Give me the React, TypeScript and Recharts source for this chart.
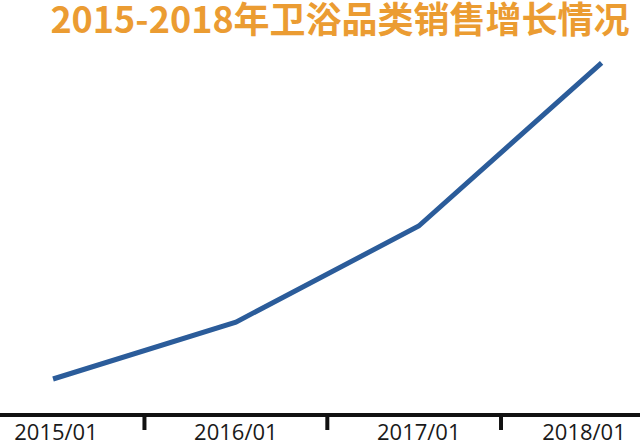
import React from "react";
import { LineChart, Line, XAxis, YAxis } from "recharts";

const periods = ["2015/01", "2016/01", "2017/01", "2018/01"];
const salesIndex = [10, 25.8, 52.5, 97.8];
const labelTicks = [0, 1, 2, 3];
const markTicks = [0.5, 1.5, 2.45];

const title = "2015-2018年卫浴品类销售增长情况";

const data = periods.map((p, i) => ({ idx: i, period: p, value: salesIndex[i] }));

const AxisTick = (props: any) => {
  const { x, y, payload } = props;
  const v = payload.value as number;
  if (markTicks.includes(v)) {
    return (
      <line x1={x} x2={x} y1={y} y2={y + 15} stroke="#111" strokeWidth={4} />
    );
  }
  const label = periods[v];
  const cx = Math.min(Math.max(x, 56), 584);
  return (
    <text
      x={cx}
      y={y + 25}
      textAnchor="middle"
      fontSize={22}
      fontFamily="'Open Sans', 'Noto Sans', sans-serif"
      fill="#1a1a1a"
    >
      {label}
    </text>
  );
};

export default function App() {
  const ticks = [...labelTicks, ...markTicks].sort((a, b) => a - b);
  return (
    <div style={{ position: "relative", width: 640, height: 445, background: "#fff" }}>
      <style>{"body{margin:0}"}</style>
      <div
        style={{
          position: "absolute",
          left: 0,
          top: -1,
          width: 680,
          textAlign: "center",
          fontFamily: "'Noto Sans CJK SC', sans-serif",
          fontWeight: 700,
          fontSize: 36,
          lineHeight: "36px",
          color: "#eb9c32",
          zIndex: 1,
        }}
      >
        {title}
      </div>
      <LineChart
        width={640}
        height={445}
        data={data}
        margin={{ top: 55, right: 0, bottom: 0, left: 0 }}
      >
        <XAxis
          dataKey="idx"
          type="number"
          domain={[-0.29, 3.21]}
          ticks={ticks}
          interval={0}
          allowDataOverflow
          height={30}
          tickLine={false}
          tickSize={0}
          tickMargin={0}
          axisLine={{ stroke: "#111", strokeWidth: 4 }}
          tick={<AxisTick />}
        />
        <YAxis hide domain={[0, 100]} />
        <Line
          dataKey="value"
          type="linear"
          stroke="#2b5c9a"
          strokeWidth={5}
          dot={false}
          isAnimationActive={false}
        />
      </LineChart>
    </div>
  );
}
